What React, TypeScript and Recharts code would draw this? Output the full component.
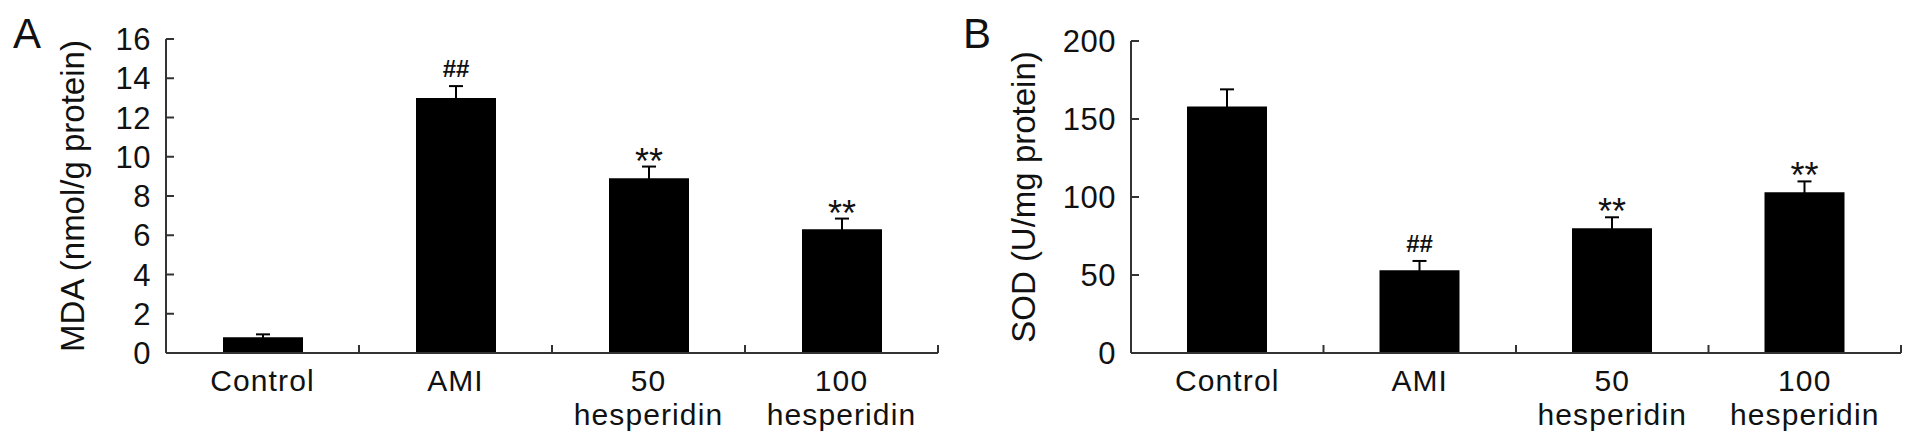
import React from 'react';
import { BarChart, Bar, XAxis, YAxis, ErrorBar, LabelList } from 'recharts';

const FONT = '"Liberation Sans", Arial, Helvetica, sans-serif';
const AXIS = '#333';
const INK = '#111';

// groups on the x axis (a space marks the line break)
const categories = ['Control', 'AMI', '50 hesperidin', '100 hesperidin'];

// panel A: MDA
const mdaValues = [0.8, 13.0, 8.9, 6.3];
const mdaErrors = [0.15, 0.6, 0.6, 0.55];
const mdaMarks = ['', '##', '**', '**'];
const mdaTicks = [0, 2, 4, 6, 8, 10, 12, 14, 16];

// panel B: SOD
const sodValues = [158, 53, 80, 103];
const sodErrors = [11, 6, 7, 7];
const sodMarks = ['', '##', '**', '**'];
const sodTicks = [0, 50, 100, 150, 200];

const buildRows = (values: number[], errors: number[], marks: string[]) =>
  categories.map((name, i) => ({ name, value: values[i], err: errors[i], mark: marks[i] }));

const XTick = (props: any) => {
  const { x, y, payload, band } = props;
  const lines = String(payload.value).split(' ');
  return (
    <g>
      <line x1={x + band / 2} x2={x + band / 2} y1={y} y2={y - 8} stroke={AXIS} strokeWidth={2} />
      <text x={x} y={y + 38} textAnchor="middle" fontSize={30} letterSpacing={1.1} fontFamily={FONT} fill={INK}>
        {lines.map((ln, i) => (
          <tspan key={i} x={x} dy={i === 0 ? 0 : 34}>
            {ln}
          </tspan>
        ))}
      </text>
    </g>
  );
};

const YTick = (props: any) => {
  const { x, y, payload } = props;
  return (
    <g>
      <line x1={x} x2={x + 8} y1={y} y2={y} stroke={AXIS} strokeWidth={2} />
      <text x={x - 15} y={y} dy="0.36em" textAnchor="end" fontSize={31} letterSpacing={0.5} fontFamily={FONT} fill={INK}>
        {payload.value}
      </text>
    </g>
  );
};

// significance marks sit just above the error bar cap
const markContent = (values: number[], errors: number[]) => (props: any) => {
  const { x, y, width, height, value, index } = props;
  if (!value) return null;
  const ppu = Number(height) / values[index];
  const capY = Number(y) - errors[index] * ppu;
  const cx = Number(x) + Number(width) / 2;
  const isHash = value === '##';
  return (
    <text
      x={cx}
      y={isHash ? capY - 9 : capY + 7}
      textAnchor="middle"
      fontSize={isHash ? 24 : 36}
      fontWeight={isHash ? 'bold' : 'normal'}
      fontFamily={FONT}
      fill={INK}
    >
      {value}
    </text>
  );
};

interface PanelProps {
  left: number;
  width: number;
  top: number;
  yWidth: number;
  values: number[];
  errors: number[];
  marks: string[];
  ticks: number[];
}

const Panel: React.FC<PanelProps> = ({ left, width, top, yWidth, values, errors, marks, ticks }) => {
  const rows = buildRows(values, errors, marks);
  const band = (width - 12 - yWidth) / categories.length;
  return (
    <div style={{ position: 'absolute', left, top: 0 }}>
      <BarChart width={width} height={445} data={rows} margin={{ top, right: 12, bottom: 0, left: 0 }}>
        <XAxis
          dataKey="name"
          height={92}
          interval={0}
          axisLine={{ stroke: AXIS, strokeWidth: 2 }}
          tickLine={false}
          tickSize={0}
          tickMargin={0}
          tick={<XTick band={band} />}
        />
        <YAxis
          width={yWidth}
          domain={[0, ticks[ticks.length - 1]]}
          ticks={ticks}
          interval={0}
          axisLine={{ stroke: AXIS, strokeWidth: 2 }}
          tickLine={false}
          tickSize={0}
          tickMargin={0}
          tick={<YTick />}
        />
        <Bar dataKey="value" fill="#000" barSize={80} isAnimationActive={false}>
          <ErrorBar dataKey="err" width={7} strokeWidth={2} stroke="#000" isAnimationActive={false} />
          <LabelList dataKey="mark" content={markContent(values, errors)} />
        </Bar>
      </BarChart>
    </div>
  );
};

export default function App() {
  return (
    <div style={{ position: 'absolute', left: 0, top: 0, width: 1913, height: 445, background: '#fff' }}>
      <Panel left={0} width={950} top={39} yWidth={166} values={mdaValues} errors={mdaErrors} marks={mdaMarks} ticks={mdaTicks} />
      <Panel left={950} width={963} top={41} yWidth={181} values={sodValues} errors={sodErrors} marks={sodMarks} ticks={sodTicks} />
      <svg width={1913} height={445} style={{ position: 'absolute', left: 0, top: 0, pointerEvents: 'none' }}>
        <text x={13} y={48} fontSize={42} fontFamily={FONT} fill={INK}>A</text>
        <text x={963} y={48} fontSize={42} fontFamily={FONT} fill={INK}>B</text>
        <text x={84} y={196} transform="rotate(-90, 84, 196)" textAnchor="middle" fontSize={33} fontFamily={FONT} fill={INK}>
          MDA (nmol/g protein)
        </text>
        <text x={1035} y={197} transform="rotate(-90, 1035, 197)" textAnchor="middle" fontSize={33} fontFamily={FONT} fill={INK}>
          SOD (U/mg protein)
        </text>
      </svg>
    </div>
  );
}
